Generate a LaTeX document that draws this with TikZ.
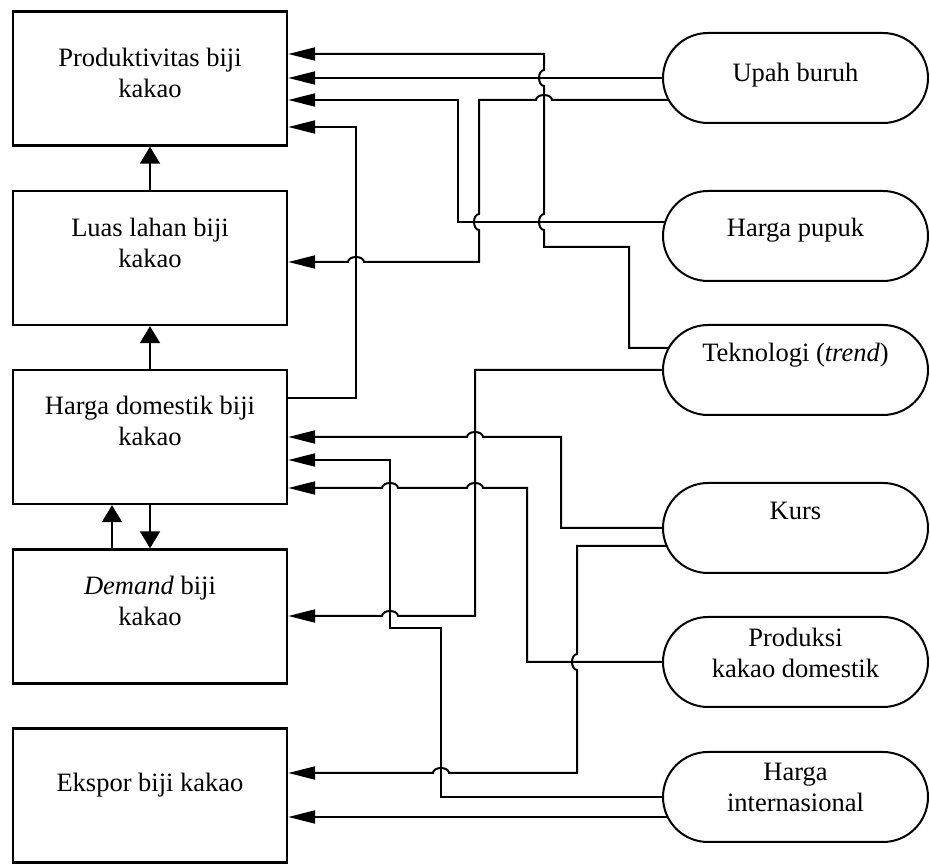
\documentclass[tikz,border=0pt]{standalone}
\usepackage{fontspec}
\setmainfont{Liberation Serif}
\usepackage{tikz}
\usetikzlibrary{shapes.misc, arrows.meta, backgrounds}
\tikzstyle{box} = [rectangle, draw, line width=2.4pt, fill=white, minimum width=274pt, minimum height=134pt, align=center, inner sep=0pt]
\tikzstyle{driver} = [rounded rectangle, draw, line width=2pt, fill=white, minimum width=265pt, minimum height=90pt, align=center, inner sep=0pt]
\tikzstyle{harrow} = [line width=2pt, -{Triangle[length=27pt, width=13pt]}]
\tikzstyle{varrow} = [line width=2pt, -{Triangle[length=17pt, width=20pt]}]
% line hops at crossings
\tikzstyle{hoph} = [start angle=0, end angle=180, x radius=8pt, y radius=5pt]
\tikzstyle{hopvu} = [start angle=-90, end angle=-270, x radius=5pt, y radius=8pt]
\tikzstyle{hopvd} = [start angle=90, end angle=270, x radius=5pt, y radius=8pt]

\begin{document}
\begin{tikzpicture}[x=1pt, y=1pt, font=\fontsize{26.5}{31}\selectfont]
\useasboundingbox (0,0) rectangle (930,863);

% Left column: cocoa blocks
\node[box, text depth=12pt] (prod) at (150,784.5) {Produktivitas biji\\kakao};
\node[box, text depth=31pt] (luas) at (150,605) {Luas lahan biji\\kakao};
\node[box, text depth=33pt] (hdom) at (150,426) {Harga domestik biji\\kakao};
\node[box, text depth=32pt] (dem) at (150,246.5) {\textit{Demand} biji\\kakao};
\node[box, text depth=27pt] (eksp) at (150,67.5) {Ekspor biji kakao};

% Right column: exogenous drivers
\node[driver, text depth=12pt] (upah) at (795.5,785) {Upah buruh};
\node[driver, text depth=16.5pt] (pupuk) at (795.5,627) {Harga pupuk};
\node[driver, text depth=36pt] (tekno) at (795.5,493) {Teknologi (\textit{trend})};
\node[driver, text depth=34.5pt] (kurs) at (795.5,335) {Kurs};
\node[driver, text depth=18pt] (prodk) at (795.5,201) {Produksi\\kakao domestik};
\node[driver, text depth=19pt] (hint) at (795.5,66) {Harga\\internasional};

% Vertical links between blocks
\draw[varrow] (luas.north) -- (prod.south);
\draw[varrow] (hdom.north) -- (luas.south);
\draw[varrow] ([xshift=-38pt]dem.north) -- ([xshift=-38pt]hdom.south);
\draw[varrow] (hdom.south) -- (dem.north);

\begin{scope}[on background layer]
% Teknologi -> Produktivitas
\draw[harrow] ([yshift=22pt]tekno.center) -| (629,616) -- (544,616) -- (544,633) arc[hopvu] -- (544,777) arc[hopvu] -- (544,809) -- (prod.east |- 0,809);
% Upah buruh -> Produktivitas, Luas lahan
\draw[harrow] (upah.center) -- (prod.east |- 0,785);
\draw[harrow] ([yshift=-22pt]upah.center) -- (552,763) arc[hoph] -- (479,763) -- (479,649) arc[hopvd] -- (479,601) -- (364,601) arc[hoph] -- (luas.east |- 0,601);
% Harga pupuk -> Produktivitas
\draw[harrow] ([yshift=14pt]pupuk.center) -| (458,763) -- (prod.east |- 0,763);
% Harga domestik -> Produktivitas
\draw[harrow] ([yshift=39pt]hdom.east) -| (356,736) -- (prod.east |- 0,736);
% Teknologi -> Demand
\draw[harrow] (tekno.center) -| (475,247) -- (398,247) arc[hoph] -- (dem.east |- 0,247);
% Kurs -> Harga domestik, Ekspor
\draw[harrow] (kurs.center) -| (561,426) -- (483,426) arc[hoph] -- (hdom.east |- 0,426);
\draw[harrow] ([yshift=-18pt]kurs.center) -| (577,209) arc[hopvd] -- (577,90) -- (449,90) arc[hoph] -- (eksp.east |- 0,90);
% Produksi domestik -> Harga domestik
\draw[harrow] (prodk.center) -| (527,375) -- (483,375) arc[hoph] -- (398,375) arc[hoph] -- (hdom.east |- 0,375);
% Harga internasional -> Harga domestik, Ekspor
\draw[harrow] (hint.center) -| (441,235) -- (390,235) |- (hdom.east |- 0,403);
\draw[harrow] ([yshift=-20pt]hint.center) -- (eksp.east |- 0,46);
\end{scope}

\end{tikzpicture}
\end{document}
